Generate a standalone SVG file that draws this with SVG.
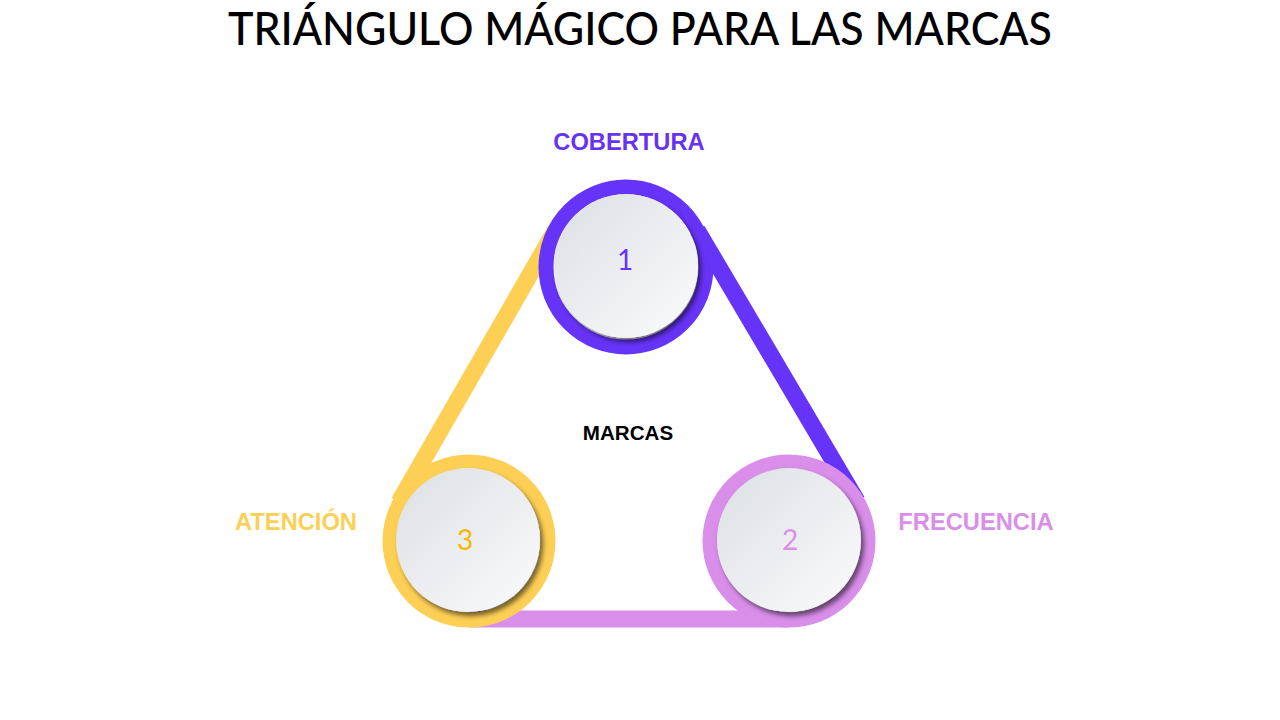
<svg xmlns="http://www.w3.org/2000/svg" width="1280" height="720" viewBox="0 0 1280 720">
<defs>
<linearGradient id="face" x1="0" y1="0" x2="1" y2="1">
<stop offset="0" stop-color="#dcdfe4"/>
<stop offset="1" stop-color="#fbfbfb"/>
</linearGradient>
<filter id="sh" x="-30%" y="-30%" width="160%" height="160%">
<feDropShadow dx="3" dy="4" stdDeviation="2.5" flood-color="#000" flood-opacity="0.55"/>
</filter>
</defs>
<style>
.ring{fill:none;stroke-width:15}
.face{fill:url(#face);filter:url(#sh)}
.num{font-family:Lato,"Noto Sans",sans-serif;font-size:28px;font-weight:400;text-anchor:middle}
.lbl{font-family:"Liberation Sans",Arial,sans-serif;font-weight:bold;font-size:23.7px;text-anchor:middle}
.center{font-size:20.6px}
.band{fill:none;stroke-width:17;stroke-linecap:butt}
</style>
<rect width="1280" height="720" fill="#fff"/>
<text x="640" y="45" font-family="Lato,'Noto Sans',sans-serif" font-size="46" font-weight="500" text-anchor="middle" textLength="824" lengthAdjust="spacingAndGlyphs" fill="#000">TRIÁNGULO MÁGICO PARA LAS MARCAS</text>
<g id="connectors">
<line class="band" x1="399" y1="502" x2="555" y2="231" stroke="#fdcf55"/>
<line class="band" x1="697" y1="230" x2="857" y2="501" stroke="#6633f8"/>
<line class="band" x1="789" y1="619" x2="469" y2="619" stroke="#d98eea"/>
</g>
<g id="node1">
<circle class="ring" cx="626" cy="267" r="80" stroke="#6633f8"/>
<circle class="face" cx="626" cy="266" r="72"/>
<text class="num" x="625" y="270" fill="#6633f8">1</text>
</g>
<g id="node2">
<circle class="ring" cx="789" cy="541" r="79" stroke="#d98eea"/>
<circle class="face" cx="789" cy="540" r="72"/>
<text class="num" x="790" y="550" fill="#d98eea">2</text>
</g>
<g id="node3">
<circle class="ring" cx="469" cy="541" r="79" stroke="#fdcf55"/>
<circle class="face" cx="468" cy="540" r="72"/>
<text class="num" x="465" y="550" fill="#f5b700">3</text>
</g>
<g id="labels">
<text class="lbl" x="629" y="150" fill="#6633f0">COBERTURA</text>
<text class="lbl center" x="628" y="440" fill="#000">MARCAS</text>
<text class="lbl" x="296" y="530" fill="#fdcf55">ATENCIÓN</text>
<text class="lbl" x="976" y="530" fill="#d98eea">FRECUENCIA</text>
</g>
</svg>
